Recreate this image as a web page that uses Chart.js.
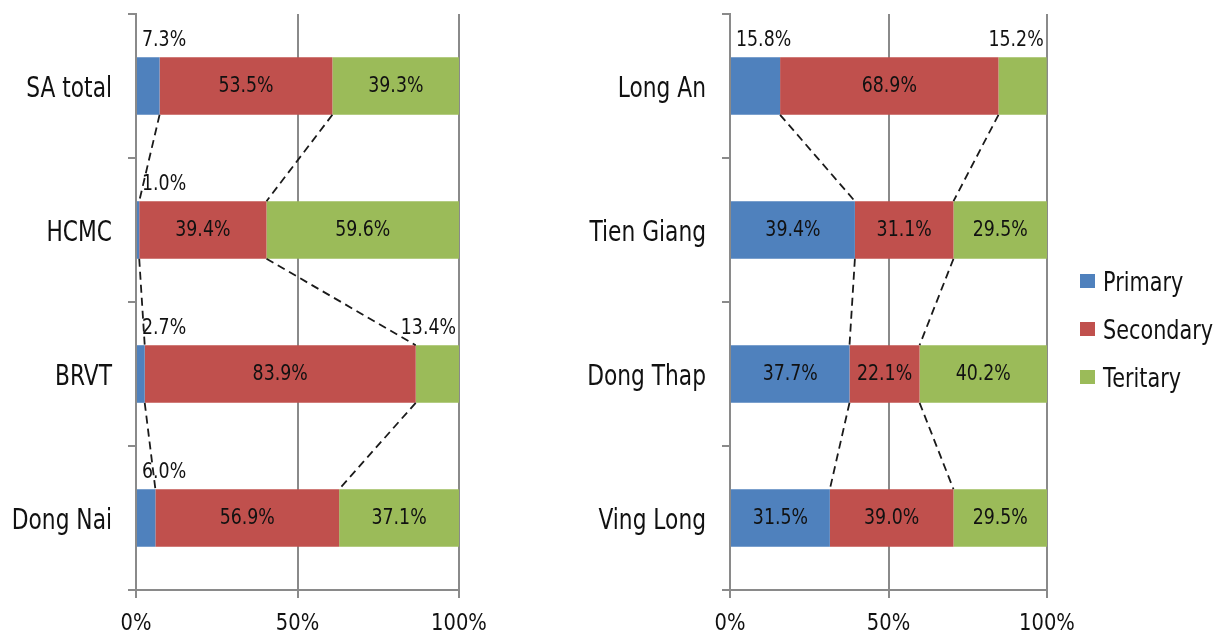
<!DOCTYPE html>
<html>
<head>
<meta charset="utf-8">
<script src="https://cdn.jsdelivr.net/npm/chart.js@4/dist/chart.umd.min.js"></script>
<style>
  html, body { margin: 0; padding: 0; background: #fff; }
  body { width: 1218px; height: 632px; position: relative; overflow: hidden; }
  .box { position: absolute; top: 0; height: 632px; }
  #leftBox { left: 0; width: 520px; }
  #rightBox { left: 560px; width: 658px; }
</style>
</head>
<body>
<div id="leftBox" class="box"><canvas id="leftChart"></canvas></div>
<div id="rightBox" class="box"><canvas id="rightChart"></canvas></div>
<script>
// Sector shares of employment (%), by province
const seriesNames = ['Primary', 'Secondary', 'Teritary'];
const seriesColors = ['#4F81BD', '#C0504D', '#9BBB59'];
const xTicks = [0, 50, 100];

const leftCategories = ['SA total', 'HCMC', 'BRVT', 'Dong Nai'];
const leftPrimary   = [7.3, 1.0, 2.7, 6.0];
const leftSecondary = [53.5, 39.4, 83.9, 56.9];
const leftTertiary  = [39.3, 59.6, 13.4, 37.1];

const rightCategories = ['Long An', 'Tien Giang', 'Dong Thap', 'Ving Long'];
const rightPrimary   = [15.8, 39.4, 37.7, 31.5];
const rightSecondary = [68.9, 31.1, 22.1, 39.0];
const rightTertiary  = [15.2, 29.5, 40.2, 29.5];

const FONT = "'DejaVu Sans', 'Liberation Sans', sans-serif";
const CAP = 0.729;          // cap height of the face, in em
const GRID = '#8a8a8a';
const TEXT = '#111';
// segments narrower than this get their label above the bar
const SMALL = 17;

// text in a condensed look: the face is squeezed horizontally
function condensedText(ctx, txt, x, y, align, size, sx) {
  ctx.save();
  ctx.font = size + 'px ' + FONT;
  ctx.fillStyle = TEXT;
  ctx.textAlign = align;
  ctx.textBaseline = 'alphabetic';
  ctx.translate(x, y);
  ctx.scale(sx, 1);
  ctx.fillText(txt, 0, 0);
  ctx.restore();
}

// dashed lines joining the segment boundaries of neighbouring bars
const connectorPlugin = {
  id: 'connectors',
  afterDatasetsDraw(chart) {
    const ctx = chart.ctx;
    const xs = chart.scales.x;
    const n = chart.data.labels.length;
    const d0 = chart.data.datasets[0].data;
    const d1 = chart.data.datasets[1].data;
    const meta = chart.getDatasetMeta(0);
    ctx.save();
    ctx.strokeStyle = '#1a1a1a';
    ctx.lineWidth = 1.8;
    ctx.setLineDash([8, 5]);
    for (let i = 0; i < n - 1; i++) {
      const a = meta.data[i], b = meta.data[i + 1];
      const yBottom = a.y + a.height / 2;
      const yTop = b.y - b.height / 2;
      const cuts = [
        [d0[i], d0[i + 1]],
        [d0[i] + d1[i], d0[i + 1] + d1[i + 1]]
      ];
      cuts.forEach(([u, v]) => {
        ctx.beginPath();
        ctx.moveTo(xs.getPixelForValue(u), yBottom);
        ctx.lineTo(xs.getPixelForValue(v), yTop);
        ctx.stroke();
      });
    }
    ctx.restore();
  }
};

// value labels: centred in the segment, or above the bar for narrow ones
const labelPlugin = {
  id: 'valueLabels',
  afterDatasetsDraw(chart) {
    const ctx = chart.ctx;
    const size = 22, sx = 0.79;
    chart.data.datasets.forEach((ds, di) => {
      const meta = chart.getDatasetMeta(di);
      ds.data.forEach((v, i) => {
        const el = meta.data[i];
        const txt = v.toFixed(1) + '%';
        const left = Math.min(el.base, el.x);
        const right = Math.max(el.base, el.x);
        if (v >= SMALL) {
          condensedText(ctx, txt, (left + right) / 2, el.y + 6, 'center', size, sx);
        } else {
          const y = el.y - el.height / 2 - 11;
          if (di === 0) {
            condensedText(ctx, txt, left + 5, y, 'left', size, sx);
          } else {
            condensedText(ctx, txt, right - 3, y, 'right', size, sx);
          }
        }
      });
    });
  }
};

// category names and percentage ticks, drawn at the scales' own positions
const axisLabelPlugin = {
  id: 'axisLabels',
  afterDraw(chart) {
    const ctx = chart.ctx;
    const ys = chart.scales.y;
    const xs = chart.scales.x;
    const catSize = 29;
    chart.data.labels.forEach((name, i) => {
      const y = ys.getPixelForValue(i);
      condensedText(ctx, name, ys.right - 24, y + catSize * CAP / 2, 'right', catSize, 0.75);
    });
    xTicks.forEach(v => {
      condensedText(ctx, v + '%', xs.getPixelForValue(v), xs.top + 40, 'center', 23.5, 0.83);
    });
  }
};

// legend to the right of the plot
const sideLegendPlugin = {
  id: 'sideLegend',
  afterDraw(chart, args, opts) {
    if (!opts.show) return;
    const ctx = chart.ctx;
    const x = chart.chartArea.right + 33;
    const yMid = (chart.chartArea.top + chart.chartArea.bottom) / 2;
    const size = 27;
    chart.data.datasets.forEach((ds, i) => {
      const y = yMid + 27 + (i - 1) * 48;
      ctx.fillStyle = ds.backgroundColor;
      ctx.fillRect(x, y - 7, 15, 14);
      condensedText(ctx, ds.label, x + 23, y + size * CAP / 2, 'left', size, 0.77);
    });
  }
};

function makeChart(id, categories, primary, secondary, tertiary, yWidth, padRight, showLegend) {
  const values = [primary, secondary, tertiary];
  return new Chart(document.getElementById(id), {
    type: 'bar',
    data: {
      labels: categories,
      datasets: seriesNames.map((name, k) => ({
        label: name,
        data: values[k],
        backgroundColor: seriesColors[k],
        borderWidth: 0,
        barPercentage: 0.4,
        categoryPercentage: 1.0
      }))
    },
    options: {
      indexAxis: 'y',
      responsive: true,
      maintainAspectRatio: false,
      animation: false,
      layout: { padding: { top: 14, right: padRight, bottom: 0, left: 0 } },
      plugins: {
        legend: { display: false },
        tooltip: { enabled: false },
        sideLegend: { show: showLegend }
      },
      scales: {
        x: {
          stacked: true,
          min: 0,
          max: 100,
          afterBuildTicks(scale) { scale.ticks = xTicks.map(v => ({ value: v })); },
          afterFit(scale) { scale.height = 42; },
          border: { color: GRID, width: 2 },
          grid: { color: GRID, lineWidth: 2, tickLength: 8, drawTicks: true },
          ticks: { display: false }
        },
        y: {
          stacked: true,
          afterFit(scale) { scale.width = yWidth; },
          border: { color: GRID, width: 2 },
          grid: { color: GRID, lineWidth: 2, offset: true, drawOnChartArea: false, tickLength: 8 },
          ticks: { display: false }
        }
      }
    },
    plugins: [connectorPlugin, labelPlugin, axisLabelPlugin, sideLegendPlugin]
  });
}

makeChart('leftChart', leftCategories, leftPrimary, leftSecondary, leftTertiary, 136, 61, false);
makeChart('rightChart', rightCategories, rightPrimary, rightSecondary, rightTertiary, 170, 171, true);
</script>
</body>
</html>
